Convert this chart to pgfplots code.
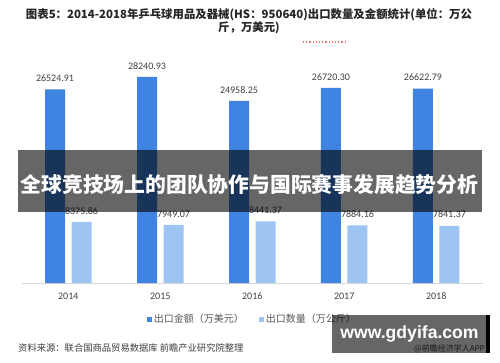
\documentclass[border=0pt]{standalone}
\usepackage{pgfplots}
\pgfplotsset{compat=1.18}
\usepackage{fontspec}
\setmainfont{Carlito}
\newfontfamily\cjk{Noto Sans CJK SC}
\newfontfamily\lib{Liberation Sans}
\definecolor{darkbar}{RGB}{62,132,224}
\definecolor{lightbar}{RGB}{158,196,244}
\definecolor{txt}{RGB}{64,64,64}
\definecolor{lineg}{RGB}{217,217,217}
\definecolor{legtxt}{RGB}{89,89,89}
\definecolor{reddot}{RGB}{240,110,120}
\definecolor{titletxt}{RGB}{38,38,38}

\pgfplotstableread{
x y lab
0 26524.91 26524.91
1 28240.93 28240.93
2 24958.25 24958.25
3 26720.30 26720.30
4 26622.79 26622.79
}\amount
\pgfplotstableread{
x y lab
0 8375.86 8375.86
1 7949.07 7949.07
2 8441.37 8441.37
3 7884.16 7884.16
4 7841.37 7841.37
}\quantity

\begin{document}
\begin{tikzpicture}[x=1pt,y=1pt]
\path[use as bounding box, fill=white] (0,0) rectangle (500,362);
\begin{axis}[
  at={(22pt,79pt)}, anchor=south west,
  scale only axis, width=460.5pt, height=219pt,
  xmin=-0.503, xmax=4.503, ymin=0, ymax=30000,
  axis x line=bottom, axis y line=none,
  x axis line style={draw=lineg, line width=0.8pt, -},
  xtick={0,...,4}, xticklabels={2014,2015,2016,2017,2018},
  major tick length=0pt,
  xticklabel style={font=\fontsize{10}{12}\selectfont, text=txt, yshift=-6.5pt},
  ymajorticks=false,
  ybar, bar width=20pt,
  point meta=explicit symbolic,
  nodes near coords,
  nodes near coords style={font=\fontsize{10}{11}\selectfont, text=txt, anchor=south, inner sep=2pt, yshift=5.5pt},
  legend columns=2,
  legend style={draw=none, fill=none, at={(axis description cs:0.5,-0.1644)}, anchor=center,
    font=\cjk\fontsize{10}{12}\selectfont, text=legtxt,
    /tikz/every even column/.append style={column sep=14pt},
    nodes={inner xsep=1.5pt}},
  legend image code/.code={\fill[#1] (0pt,-2.5pt) rectangle (5pt,2.5pt);},
]
\addplot[fill=darkbar, draw=none, bar shift=-13.25pt] table[x=x, y=y, meta=lab] {\amount};
\addlegendentry{出口金额（万美元）}
\addplot[fill=lightbar, draw=none, bar shift=13.25pt] table[x=x, y=y, meta=lab] {\quantity};
\addlegendentry{出口数量（万公斤）}
\end{axis}
% title
\node[font=\cjk\bfseries\fontsize{11.4}{11.5}\selectfont, text=titletxt, align=center, inner sep=0pt] at (249,341)
  {图表5：2014-2018年乒乓球用品及器械(HS：950640)出口数量及金额统计(单位：万公\\斤，万美元)};
\draw[reddot, dotted, line width=1.2pt] (303,320) -- (345,320);
% source
\node[font=\cjk\fontsize{9.3}{11}\selectfont, text=txt, anchor=west, inner sep=0pt] at (18,14)
  {资料来源：联合国商品贸易数据库 前瞻产业研究院整理};
% banner
\fill[black, opacity=0.6] (18,150) rectangle (482,212);
\node[font=\cjk\bfseries\fontsize{20.8}{22}\selectfont, text=white, inner sep=0pt] at (249.5,177) {全球竞技场上的团队协作与国际赛事发展趋势分析};
% watermark box
\node[font=\cjk\fontsize{8}{9}\selectfont, text=txt, anchor=east, inner sep=0pt] at (485,13) {@前瞻经济学人APP};
\fill[black, opacity=0.6] (332,9) rectangle (486,47);
\fill[black] (486,9) rectangle (490,47);
\node[font=\lib\bfseries\fontsize{17.6}{19}\selectfont, text=white, inner sep=0pt] at (409.5,28) {www.gdyifa.com};
\end{tikzpicture}
\end{document}
